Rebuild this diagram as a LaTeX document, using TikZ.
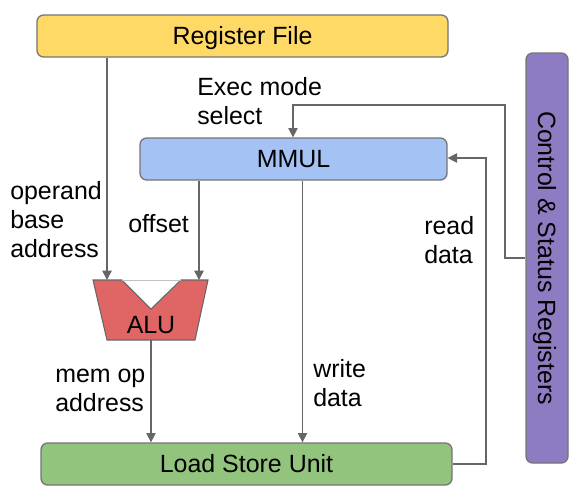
\documentclass[tikz,border=0pt]{standalone}
\usepackage{fontspec}
\setmainfont{Liberation Sans}
\usetikzlibrary{arrows.meta}
\definecolor{rfy}{HTML}{FFD966}
\definecolor{csrp}{HTML}{8E7CC3}
\definecolor{mmb}{HTML}{A4C2F4}
\definecolor{lsg}{HTML}{93C47D}
\definecolor{alur}{HTML}{E06666}
\definecolor{edge}{HTML}{666666}
\begin{document}
\begin{tikzpicture}[x=0.75pt,y=-0.75pt,
  blk/.style={draw=edge!90,line width=1pt,rounded corners=5pt,inner sep=0pt},
  boxtext/.style={text height=13.4pt,text depth=0pt,inner sep=0pt,font=\fontsize{18.7}{22}\selectfont},
  conn/.style={draw=edge,line width=1.1pt,-{Triangle[length=7pt,width=7pt]}},
  lbl/.style={inner sep=0pt,align=left,anchor=west,font=\fontsize{18.7}{21.8}\selectfont}]
\useasboundingbox (0,0) rectangle (581,497);
\node[blk,fill=rfy,minimum width=411*0.75pt,minimum height=42*0.75pt] (rf) at (242.5,36) {};
\node[boxtext] (rft) at (rf.center) {Register File};
\node[blk,fill=csrp,minimum width=42*0.75pt,minimum height=410*0.75pt] (csr) at (547,258) {};
\node[boxtext,rotate=-90] (csrt) at (547,258) {Control \& Status Registers};
\node[blk,fill=mmb,minimum width=307*0.75pt,minimum height=42*0.75pt] (mmul) at (293.5,159) {};
\node[boxtext] (mmult) at (mmul.center) {MMUL};
\node[blk,fill=lsg,minimum width=411*0.75pt,minimum height=42*0.75pt] (lsu) at (246.5,464) {};
\node[boxtext] (lsut) at (lsu.center) {Load Store Unit};
% ALU
\fill[alur,draw=edge,line width=0.8pt] (93,280) -- (122,280) -- (151,309) -- (181,280) -- (208,280) -- (195,340) -- (107,340) -- cycle;
\draw[edge!40,line width=0.6pt] (122,280) -- (181,280);
\node[boxtext] (alu) at (151,325) {ALU};
\coordinate (aluA) at (107,280);
\coordinate (aluB) at (199,280);
\coordinate (aluO) at (151,340);
% connectors
\draw[conn] (rf.south -| aluA) -- (aluA);
\draw[conn] (mmul.south -| aluB) -- (aluB);
\draw[conn] (aluO) -- (aluO |- lsu.north);
\draw[conn] ([xshift=6.75pt]mmul.south) -- ([xshift=6.75pt]mmul.south |- lsu.north);
\coordinate (ex1) at (505,258);
\coordinate (ex2) at (505,105);
\coordinate (ex3) at (293,105);
\draw[conn] (csr.west |- ex1) -- (ex1) -- (ex2) -- (ex3) -- (ex3 |- mmul.north);
\coordinate (rd1) at (486,464);
\coordinate (rd2) at (486,158);
\draw[conn] (lsu.east) -- (rd1) -- (rd2) -- (mmul.east |- rd2);
% labels
\node[lbl] (l1) at (197,101) {Exec mode\\select};
\node[lbl] (l2) at (10,220) {operand\\base\\address};
\node[lbl] (l3) at (128,224) {offset};
\node[lbl] (l4) at (424,240) {read\\data};
\node[lbl] (l5) at (55,390) {mem op\\address};
\node[lbl] (l6) at (313,383) {write\\data};
\end{tikzpicture}
\end{document}
